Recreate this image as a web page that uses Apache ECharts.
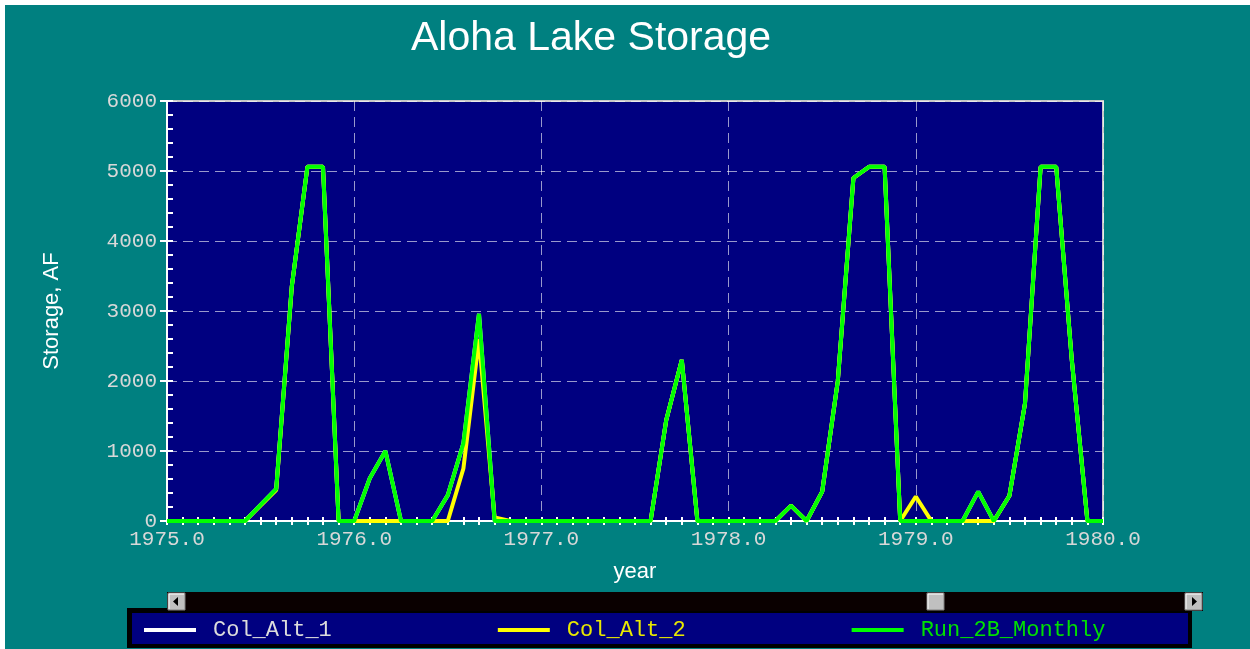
<!DOCTYPE html>
<html>
<head>
<meta charset="utf-8">
<title>Aloha Lake Storage</title>
<script src="https://cdn.jsdelivr.net/npm/echarts@6/dist/echarts.min.js"></script>
<style>
  html, body { margin: 0; padding: 0; background: #008080; }
  #chart { width: 1250px; height: 649px; }
</style>
</head>
<body>
<div id="chart"></div>
<script>
// monthly values starting 1975.0, one per month up to 1980.0
const startYear = 1975
const seriesNames = ['Col_Alt_1', 'Col_Alt_2', 'Run_2B_Monthly']
const colAlt1 = [
  0, 0, 0, 0, 0, 0, 230, 460, 3350, 5060, 5060, 0,
  0, 610, 1000, 0, 0, 0, 370, 1110, 2960, 0, 0, 0,
  0, 0, 0, 0, 0, 0, 0, 0, 1440, 2300, 0, 0,
  0, 0, 0, 0, 220, 0, 420, 2000, 4900, 5060, 5060, 0,
  0, 0, 0, 0, 420, 0, 360, 1680, 5060, 5060, 2300, 0,
  0
]
const colAlt2 = [
  0, 0, 0, 0, 0, 0, 220, 440, 3350, 5060, 5060, 0,
  0, 0, 0, 0, 0, 0, 0, 750, 2600, 50, 0, 0,
  0, 0, 0, 0, 0, 0, 0, 0, 1440, 2300, 0, 0,
  0, 0, 0, 0, 220, 0, 420, 2000, 4900, 5060, 5060, 0,
  350, 0, 0, 0, 0, 0, 360, 1680, 5060, 5060, 2300, 0,
  0
]
const run2BMonthly = [
  0, 0, 0, 0, 0, 0, 230, 460, 3350, 5060, 5060, 0,
  0, 610, 1000, 0, 0, 0, 370, 1110, 2960, 0, 0, 0,
  0, 0, 0, 0, 0, 0, 0, 0, 1440, 2300, 0, 0,
  0, 0, 0, 0, 220, 0, 420, 2000, 4900, 5060, 5060, 0,
  0, 0, 0, 0, 420, 0, 360, 1680, 5060, 5060, 2300, 0,
  0
]
const lineColors = ['#ffffff', '#ffff00', '#00ff00']
const legendTextColors = ['#dcdcdc', '#e8e800', '#00e000']

const mono = 'Liberation Mono'
const sans = 'Liberation Sans'

function toPoints(values) {
  return values.map((v, i) => [startYear + i / 12, v])
}

function bevelButton(x, y, w, h, arrow) {
  const els = [
    { type: 'rect', shape: { x: x, y: y, width: w, height: h }, style: { fill: '#c0c0c0', stroke: '#808080', lineWidth: 1 } },
    { type: 'polyline', shape: { points: [[x + 1, y + h - 1], [x + 1, y + 1], [x + w - 1, y + 1]] }, style: { stroke: '#ffffff', lineWidth: 1, fill: null } }
  ]
  if (arrow === 'left') {
    els.push({ type: 'polygon', shape: { points: [[x + 5, y + h / 2], [x + 10, y + 4], [x + 10, y + h - 4]] }, style: { fill: '#000' } })
  } else if (arrow === 'right') {
    els.push({ type: 'polygon', shape: { points: [[x + w - 5, y + h / 2], [x + w - 10, y + 4], [x + w - 10, y + h - 4]] }, style: { fill: '#000' } })
  }
  return els
}

const chart = echarts.init(document.getElementById('chart'))

const option = {
  backgroundColor: '#008080',
  animation: false,
  title: {
    text: 'Aloha Lake Storage',
    left: 411,
    top: 18,
    padding: 0,
    textStyle: { color: '#ffffff', fontFamily: sans, fontSize: 41, fontWeight: 'normal' }
  },
  grid: {
    left: 167, right: 147, top: 101, bottom: 128,
    show: true,
    backgroundColor: '#000080',
    borderColor: '#c8c8c8',
    borderWidth: 2
  },
  legend: {
    left: 144,
    top: 619,
    padding: 0,
    icon: 'rect',
    itemWidth: 52,
    itemHeight: 4,
    itemGap: 166,
    selectedMode: false,
    textStyle: { fontFamily: mono, fontSize: 22, padding: [0, 0, 0, 12] },
    data: seriesNames.map((n, i) => ({ name: n, textStyle: { color: legendTextColors[i] } }))
  },
  xAxis: [
    {
      type: 'value',
      min: 1975, max: 1980, interval: 1,
      name: 'year',
      nameLocation: 'middle',
      nameGap: 40,
      nameTextStyle: { color: '#ffffff', fontFamily: sans, fontSize: 22 },
      axisLine: { lineStyle: { color: '#ffffff', width: 2 } },
      axisTick: { show: true, inside: true, length: 4, lineStyle: { color: '#ffffff', width: 2 } },
      minorTick: { show: true, splitNumber: 12, length: 4, lineStyle: { color: '#ffffff', width: 2 } },
      axisLabel: {
        color: '#d8d8d8', fontFamily: mono, fontSize: 21, margin: 8,
        formatter: v => v.toFixed(1)
      },
      splitLine: { show: true, lineStyle: { color: 'rgba(255,255,255,0.6)', type: [10, 6], width: 1 } }
    },
    {
      // second axis only for the ticks that stick out under the plot
      type: 'value',
      position: 'bottom',
      min: 1975, max: 1980, interval: 1,
      axisLine: { show: false },
      axisTick: { show: true, inside: false, length: 4, lineStyle: { color: '#ffffff', width: 2 } },
      minorTick: { show: true, splitNumber: 12, length: 4, lineStyle: { color: '#ffffff', width: 2 } },
      axisLabel: { show: false },
      splitLine: { show: false }
    }
  ],
  yAxis: [
    {
      type: 'value',
      min: 0, max: 6000, interval: 1000,
      name: 'Storage, AF',
      nameLocation: 'middle',
      nameGap: 104,
      nameTextStyle: { color: '#ffffff', fontFamily: sans, fontSize: 22 },
      axisLine: { show: true, lineStyle: { color: '#ffffff', width: 2 } },
      axisTick: { show: true, inside: true, length: 6, lineStyle: { color: '#ffffff', width: 2 } },
      minorTick: { show: true, splitNumber: 5, length: 6, lineStyle: { color: '#ffffff', width: 2 } },
      axisLabel: { color: '#d8d8d8', fontFamily: mono, fontSize: 21, margin: 10, formatter: v => String(v) },
      splitLine: { show: true, lineStyle: { color: 'rgba(255,255,255,0.6)', type: [10, 6], width: 1 } }
    },
    {
      type: 'value',
      position: 'left',
      min: 0, max: 6000, interval: 1000,
      axisLine: { show: false },
      axisTick: { show: true, inside: false, length: 7, lineStyle: { color: '#ffffff', width: 2 } },
      axisLabel: { show: false },
      splitLine: { show: false }
    }
  ],
  series: [
    { name: seriesNames[0], data: toPoints(colAlt1) },
    { name: seriesNames[1], data: toPoints(colAlt2) },
    { name: seriesNames[2], data: toPoints(run2BMonthly) }
  ].map((s, i) => ({
    ...s,
    type: 'line',
    xAxisIndex: 0,
    yAxisIndex: 0,
    showSymbol: false,
    symbol: 'none',
    color: lineColors[i],
    itemStyle: { color: lineColors[i] },
    lineStyle: { color: lineColors[i], width: 4 },
    z: 3 + i
  })),
  graphic: [
    // white frame strips on the top and left edge
    { type: 'rect', shape: { x: 0, y: 0, width: 1250, height: 5 }, style: { fill: '#ffffff' }, z: 100 },
    { type: 'rect', shape: { x: 0, y: 0, width: 5, height: 649 }, style: { fill: '#ffffff' }, z: 100 },
    // legend panel
    { type: 'rect', shape: { x: 127, y: 608, width: 1065, height: 40 }, style: { fill: '#000000' }, z: -10 },
    { type: 'rect', shape: { x: 132, y: 613, width: 1056, height: 31 }, style: { fill: '#000080' }, z: -9 },
    // scrollbar under the plot
    {
      type: 'group',
      z: 50,
      children: [
        { type: 'rect', shape: { x: 167, y: 592, width: 1036, height: 19 }, style: { fill: '#0a0000' } }
      ]
        .concat(bevelButton(168, 593, 17, 17, 'left'))
        .concat(bevelButton(927, 593, 17, 17, null))
        .concat(bevelButton(1185, 593, 17, 17, 'right'))
    }
  ]
}

chart.setOption(option)
</script>
</body>
</html>
